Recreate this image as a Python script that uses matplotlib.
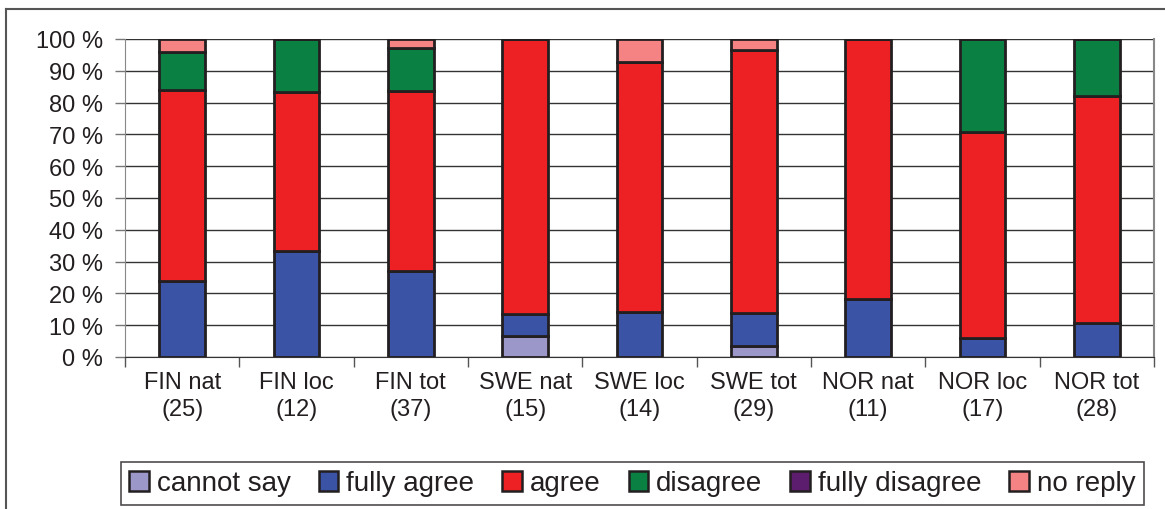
import matplotlib.pyplot as plt
import numpy as np
from matplotlib.lines import Line2D

plt.rcParams['font.family'] = ['Liberation Sans', 'DejaVu Sans']

groups = ['FIN nat', 'FIN loc', 'FIN tot', 'SWE nat', 'SWE loc', 'SWE tot', 'NOR nat', 'NOR loc', 'NOR tot']
counts = [25, 12, 37, 15, 14, 29, 11, 17, 28]

# percent of answers per group
cannot_say = [0, 0, 0, 6.7, 0, 3.4, 0, 0, 0]
fully_agree = [24.0, 33.3, 27.0, 6.7, 14.3, 10.3, 18.2, 5.9, 10.7]
agree = [60.0, 50.0, 56.8, 86.6, 78.6, 82.8, 81.8, 64.7, 71.4]
disagree = [12.0, 16.7, 13.5, 0, 0, 0, 0, 29.4, 17.9]
fully_disagree = [0, 0, 0, 0, 0, 0, 0, 0, 0]
no_reply = [4.0, 0, 2.7, 0, 7.1, 3.5, 0, 0, 0]

series = [('cannot say', cannot_say, '#9b97c9'),
          ('fully agree', fully_agree, '#3a53a4'),
          ('agree', agree, '#ed2024'),
          ('disagree', disagree, '#0a8043'),
          ('fully disagree', fully_disagree, '#5c1d6e'),
          ('no reply', no_reply, '#f58383')]

fig = plt.figure(figsize=(11.65, 5.10), dpi=100)
ax = fig.add_axes([125 / 1165, 1 - 358 / 510, (1154 - 125) / 1165, (358 - 40) / 510])

x = np.arange(len(groups))
bottom = np.zeros(len(groups))
handles = []
for name, vals, col in series:
    vals = np.array(vals, dtype=float)
    ax.bar(x, vals, 0.4, bottom=bottom, color=col, edgecolor='#231f20', linewidth=2.0, zorder=3)
    bottom += vals
    handles.append(plt.Rectangle((0, 0), 1, 1, facecolor=col, edgecolor='#231f20', linewidth=1.8))

ax.set_xlim(-0.5, len(groups) - 0.5)
ax.set_ylim(0, 100)
ax.set_yticks(np.arange(0, 101, 10))
ax.set_yticklabels([f'{v} %' for v in range(0, 101, 10)], fontsize=17, color='#231f20')
ax.yaxis.grid(True, color='#333333', linewidth=1, zorder=0)
ax.tick_params(axis='y', length=7, width=1, color='#777777', pad=9)

ax.set_xticks(x)
ax.set_xticklabels([f'{g}\n({n})' for g, n in zip(groups, counts)], fontsize=17,
                   color='#231f20', linespacing=1.3)
ax.tick_params(axis='x', which='major', length=0, pad=10)
ax.set_xticks(np.arange(-0.5, len(groups), 1), minor=True)
ax.tick_params(axis='x', which='minor', length=7, width=1, color='#555555')

for s in ['top', 'right']:
    ax.spines[s].set_visible(False)
ax.spines['left'].set_color('#888888')
ax.spines['bottom'].set_color('#333333')
ax.plot([1, 1], [0, 1], transform=ax.transAxes, color='#888888', lw=1.5, clip_on=False)

# outer chart frame
fig.add_artist(Line2D([6 / 1165, 1], [1 - 10 / 510, 1 - 10 / 510], color='#555555', lw=1.5))
fig.add_artist(Line2D([6 / 1165, 6 / 1165], [0, 1 - 10 / 510], color='#555555', lw=1.5))

leg = fig.legend(handles, [s[0] for s in series], loc='center', ncol=6,
                 bbox_to_anchor=((127 + 1138) / 2 / 1165, 1 - 484.5 / 510),
                 fontsize=20, frameon=True, fancybox=False, edgecolor='#231f20',
                 handlelength=0.7, handleheight=0.7, handletextpad=0.3,
                 columnspacing=1.0, borderpad=0.3)
leg.get_frame().set_linewidth(1.2)
for t in leg.get_texts():
    t.set_color('#231f20')

fig.savefig('out.png', dpi=100)
